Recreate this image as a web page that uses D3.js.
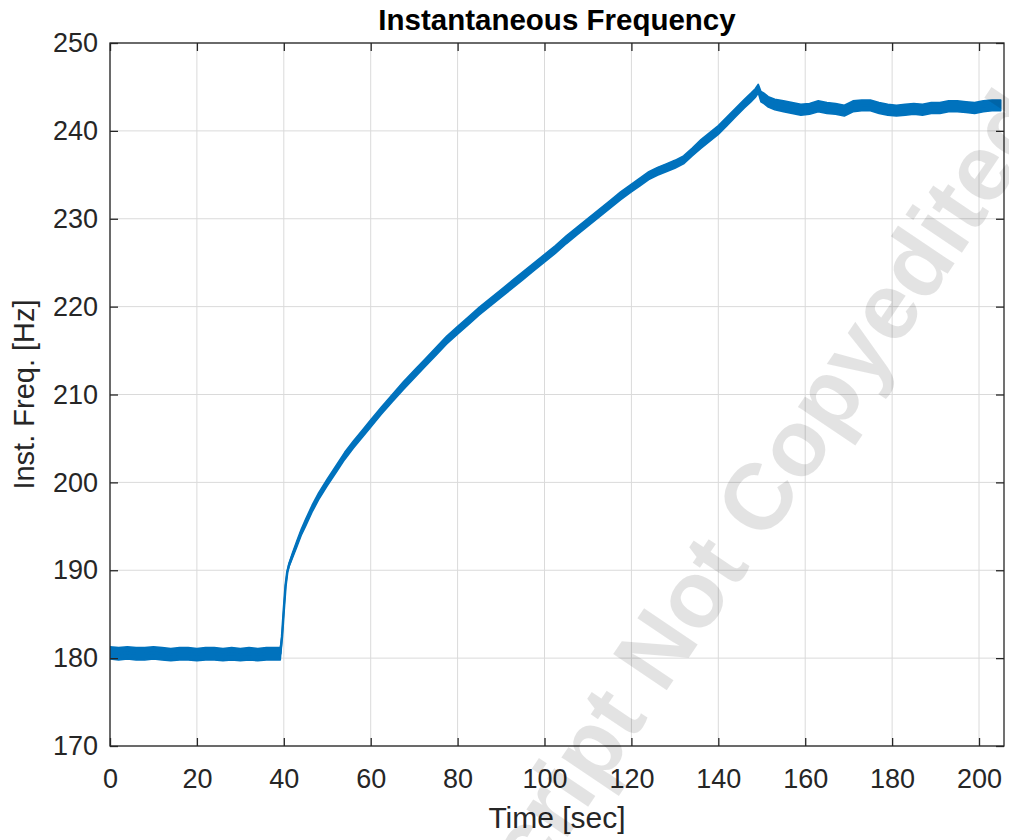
<!DOCTYPE html>
<html>
<head>
<meta charset="utf-8">
<script src="https://cdn.jsdelivr.net/npm/d3@7"></script>
<style>
  html, body { margin: 0; padding: 0; background: #fff; }
  svg { display: block; }
  text { font-family: "Liberation Sans", Arial, Helvetica, sans-serif; }
</style>
</head>
<body>
<svg id="chart" width="1009" height="840"></svg>
<script>
// ---------------- data ----------------
const chartTitle = "Instantaneous Frequency";
const xLabel = "Time [sec]";
const yLabel = "Inst. Freq. [Hz]";
const watermark = "Manuscript Not Copyedited";

const xTicks = [0, 20, 40, 60, 80, 100, 120, 140, 160, 180, 200];
const yTicks = [170, 180, 190, 200, 210, 220, 230, 240, 250];

const timeSec = [
  0, 2, 4, 6, 8, 10, 12, 14, 16, 18, 20, 22, 24, 26, 28, 30, 32, 34, 36, 38, 39.2,
  39.6, 40.0, 40.4, 40.8, 41.2, 42, 43, 44, 45, 46.5, 48, 50, 52, 54, 56, 58, 60,
  62.5, 65, 67.5, 70, 72.5, 75, 77.5, 80, 82.5, 85, 87.5, 90, 92.5, 95, 97.5, 100,
  102.5, 105, 107.5, 110, 112.5, 115, 117.5, 120, 122, 124, 126, 128, 130, 132, 134,
  136, 138, 140, 142, 144, 146, 147.5, 148.5, 149.2, 149.8, 150.5, 151.5, 153, 155,
  157, 159, 161, 163, 165, 167, 169, 171, 173, 175, 177, 179, 181, 183, 185, 187,
  189, 191, 193, 195, 197, 199, 201, 203, 205
];
const freqHz = [
  180.6, 180.5, 180.6, 180.5, 180.5, 180.6, 180.5, 180.4, 180.5, 180.5, 180.4, 180.5,
  180.5, 180.4, 180.5, 180.4, 180.5, 180.4, 180.5, 180.5, 180.5,
  182.5, 185.5, 188.2, 189.8, 190.6, 191.7, 193.0, 194.3, 195.4, 197.0, 198.4, 200.0,
  201.5, 203.0, 204.3, 205.5, 206.7,
  208.2, 209.6, 211.0, 212.3, 213.6, 214.9, 216.2, 217.3, 218.4, 219.5, 220.5, 221.5,
  222.5, 223.5, 224.5, 225.5,
  226.5, 227.6, 228.6, 229.6, 230.6, 231.6, 232.6, 233.5, 234.2, 234.9, 235.4, 235.8,
  236.2, 236.7, 237.6,
  238.5, 239.3, 240.1, 241.1, 242.1, 243.1, 243.8, 244.3, 244.8, 243.9, 243.7, 243.3,
  243.0, 242.8,
  242.6, 242.4, 242.5, 242.8, 242.6, 242.5, 242.3, 242.8, 242.9, 242.9, 242.6, 242.4,
  242.3, 242.4, 242.5, 242.4,
  242.6, 242.6, 242.8, 242.8, 242.7, 242.6, 242.8, 242.9, 242.9
];
// half-width of the noisy band, in Hz
const noiseHz = [
  0.7, 0.7, 0.7, 0.7, 0.7, 0.7, 0.7, 0.7, 0.7, 0.7, 0.7, 0.7, 0.7, 0.7, 0.7, 0.7,
  0.7, 0.7, 0.7, 0.7, 0.7,
  0.1, 0.1, 0.1, 0.1, 0.2, 0.3, 0.35, 0.35, 0.4, 0.4, 0.4, 0.4, 0.4, 0.42, 0.42, 0.42, 0.42,
  0.42, 0.42, 0.45, 0.45, 0.45, 0.45, 0.45, 0.45, 0.45, 0.45, 0.45, 0.45, 0.45, 0.45, 0.45, 0.45,
  0.45, 0.45, 0.45, 0.45, 0.45, 0.45, 0.45, 0.45, 0.45, 0.45, 0.45, 0.45, 0.45, 0.45, 0.45,
  0.5, 0.5, 0.5, 0.5, 0.5, 0.5, 0.5, 0.5, 0.5, 0.6, 0.6, 0.6, 0.6, 0.62,
  0.62, 0.62, 0.62, 0.62, 0.62, 0.62, 0.62, 0.62, 0.62, 0.62, 0.62, 0.62, 0.62, 0.62,
  0.62, 0.62, 0.62, 0.62, 0.62, 0.62, 0.62, 0.62, 0.62, 0.62, 0.62
];

// ---------------- layout ----------------
const svg = d3.select("#chart");
const plot = { left: 110, right: 1004, top: 43, bottom: 746 };
const x = d3.scaleLinear().domain([0, 205.75]).range([plot.left, plot.right]);
const y = d3.scaleLinear().domain([170, 250]).range([plot.bottom, plot.top]);

const axisColor = "#262626";
const gridColor = "#dadada";
const lineColor = "#0072BD";

// grid
const grid = svg.append("g");
grid.selectAll("line.gx").data(xTicks).join("line")
  .attr("x1", d => x(d)).attr("x2", d => x(d))
  .attr("y1", plot.top).attr("y2", plot.bottom)
  .attr("stroke", gridColor).attr("stroke-width", 1);
grid.selectAll("line.gy").data(yTicks).join("line")
  .attr("y1", d => y(d)).attr("y2", d => y(d))
  .attr("x1", plot.left).attr("x2", plot.right)
  .attr("stroke", gridColor).attr("stroke-width", 1);

// data
const pts = timeSec.map((t, i) => ({ t, f: freqHz[i], n: noiseHz[i] }));
svg.append("clipPath").attr("id", "clip").append("rect")
  .attr("x", plot.left).attr("y", plot.top)
  .attr("width", plot.right - plot.left).attr("height", plot.bottom - plot.top);
const dataG = svg.append("g").attr("clip-path", "url(#clip)");
dataG.append("path").datum(pts)
  .attr("d", d3.area().x(d => x(d.t)).y0(d => y(d.f - d.n)).y1(d => y(d.f + d.n)))
  .attr("fill", lineColor).attr("stroke", lineColor).attr("stroke-width", 1.5)
  .attr("stroke-linejoin", "round");
dataG.append("path").datum(pts)
  .attr("d", d3.line().x(d => x(d.t)).y(d => y(d.f)))
  .attr("fill", "none").attr("stroke", lineColor).attr("stroke-width", 2.5)
  .attr("stroke-linejoin", "round");

// axes
const fmt = d3.format("d");
const gx = svg.append("g").attr("transform", `translate(0,${plot.bottom})`)
  .call(d3.axisBottom(x).tickValues(xTicks).tickFormat(fmt).tickSizeInner(-8).tickSizeOuter(0).tickPadding(23));
const gxt = svg.append("g").attr("transform", `translate(0,${plot.top})`)
  .call(d3.axisTop(x).tickValues(xTicks).tickFormat("").tickSizeInner(-8).tickSizeOuter(0));
const gy = svg.append("g").attr("transform", `translate(${plot.left},0)`)
  .call(d3.axisLeft(y).tickValues(yTicks).tickFormat(fmt).tickSizeInner(-8).tickSizeOuter(0).tickPadding(12));
const gyr = svg.append("g").attr("transform", `translate(${plot.right},0)`)
  .call(d3.axisRight(y).tickValues(yTicks).tickFormat("").tickSizeInner(-8).tickSizeOuter(0));

[gx, gxt, gy, gyr].forEach(g => {
  g.select(".domain").remove();
  g.selectAll(".tick line").attr("stroke", axisColor).attr("stroke-width", 1.3);
  g.selectAll(".tick text").attr("fill", axisColor).attr("font-size", 27)
    .attr("font-family", "'Liberation Sans', Arial, sans-serif");
});

svg.append("rect")
  .attr("x", plot.left).attr("y", plot.top)
  .attr("width", plot.right - plot.left).attr("height", plot.bottom - plot.top)
  .attr("fill", "none").attr("stroke", axisColor).attr("stroke-width", 1.3);

// labels
svg.append("text").text(chartTitle)
  .attr("x", (plot.left + plot.right) / 2).attr("y", 30)
  .attr("text-anchor", "middle").attr("font-weight", "bold")
  .attr("font-size", 29.5).attr("fill", "#000");
svg.append("text").text(xLabel)
  .attr("x", (plot.left + plot.right) / 2).attr("y", 828)
  .attr("text-anchor", "middle").attr("font-size", 30).attr("fill", axisColor);
svg.append("text").text(yLabel)
  .attr("transform", `translate(34,${(plot.top + plot.bottom) / 2}) rotate(-90)`)
  .attr("text-anchor", "middle").attr("font-size", 29).attr("fill", axisColor);

// watermark
svg.append("text").text(watermark)
  .attr("transform", "translate(683,608) rotate(-56)")
  .attr("text-anchor", "middle").attr("dominant-baseline", "central")
  .attr("font-size", 94).attr("font-weight", "bold")
  .attr("fill", "#000").attr("fill-opacity", 0.11);
</script>
</body>
</html>
